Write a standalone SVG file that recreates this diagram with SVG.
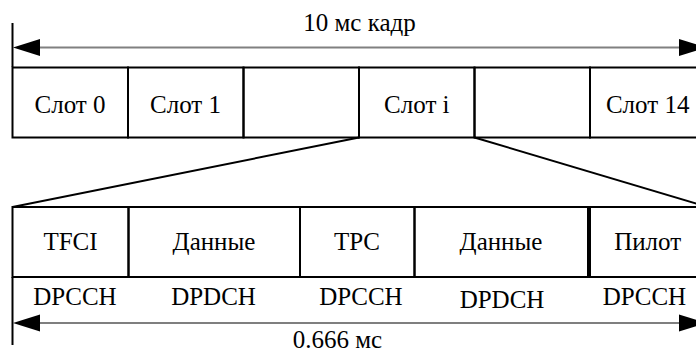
<svg xmlns="http://www.w3.org/2000/svg" width="696" height="352" viewBox="0 0 696 352">
<style>
text{font-family:'Liberation Serif','DejaVu Serif','Times New Roman',serif;font-size:25px;fill:#000;text-anchor:middle}
.b{fill:none;stroke:#000;stroke-width:2}
.l{stroke:#000;stroke-width:2}
</style>
<rect width="696" height="352" fill="#fff"/>
<g id="connectors">
<line class="l" x1="12.5" y1="23" x2="12.5" y2="67"/>
<line x1="38" y1="47.5" x2="682" y2="47.5" stroke="#808080" stroke-width="2"/>
<polygon points="13,47.5 40,39 40,56" fill="#000"/>
<polygon points="706,47.5 679,39 679,56" fill="#000"/>
<line x1="359" y1="137.5" x2="12.5" y2="207" stroke="#000" stroke-width="2"/>
<line x1="474.5" y1="137.5" x2="708" y2="207" stroke="#000" stroke-width="2"/>
<line class="l" x1="12.5" y1="277" x2="12.5" y2="345"/>
<line x1="38" y1="323" x2="682" y2="323" stroke="#555" stroke-width="1.5"/>
<polygon points="13,323 40,314.5 40,331.5" fill="#000"/>
<polygon points="706,323 679,314.5 679,331.5" fill="#000"/>
</g>
<g font-family="Liberation Serif, serif" font-size="25" text-anchor="middle">
<g id="frame-label"><text x="359.5" y="30.5">10 мс кадр</text></g>
<g id="slot0"><rect class="b" x="12.5" y="67.5" width="115.5" height="70"/><text x="70" y="113">Слот 0</text></g>
<g id="slot1"><rect class="b" x="128" y="67.5" width="115.5" height="70"/><text x="185.5" y="113">Слот 1</text></g>
<g id="slot2"><rect class="b" x="243.5" y="67.5" width="115.5" height="70"/></g>
<g id="sloti"><rect class="b" x="359" y="67.5" width="115.5" height="70"/><text x="416.8" y="113">Слот i</text></g>
<g id="slot3"><rect class="b" x="474.5" y="67.5" width="115.5" height="70"/></g>
<g id="slot14"><rect class="b" x="590" y="67.5" width="115.5" height="70"/><text x="647.7" y="113">Слот 14</text></g>
<g id="tfci"><rect class="b" x="12.5" y="207" width="116" height="70"/><text x="70.5" y="250">TFCI</text><text x="75" y="305">DPCCH</text></g>
<g id="data1"><rect class="b" x="128.5" y="207" width="171.5" height="70"/><text x="214" y="250">Данные</text><text x="213.5" y="305">DPDCH</text></g>
<g id="tpc"><rect class="b" x="300" y="207" width="114.5" height="70"/><text x="357" y="250">TPC</text><text x="361" y="305">DPCCH</text></g>
<g id="data2"><rect class="b" x="414.5" y="207" width="174" height="70"/><text x="501" y="250">Данные</text><text x="502" y="308">DPDCH</text></g>
<g id="pilot"><rect class="b" x="588.5" y="207" width="118" height="70"/><line x1="589" y1="207" x2="589" y2="277" stroke="#000" stroke-width="4"/><text x="647.7" y="250">Пилот</text><text x="644.5" y="305">DPCCH</text></g>
<g id="slot-duration"><text x="337.5" y="348">0.666 мс</text></g>
</g>
</svg>
